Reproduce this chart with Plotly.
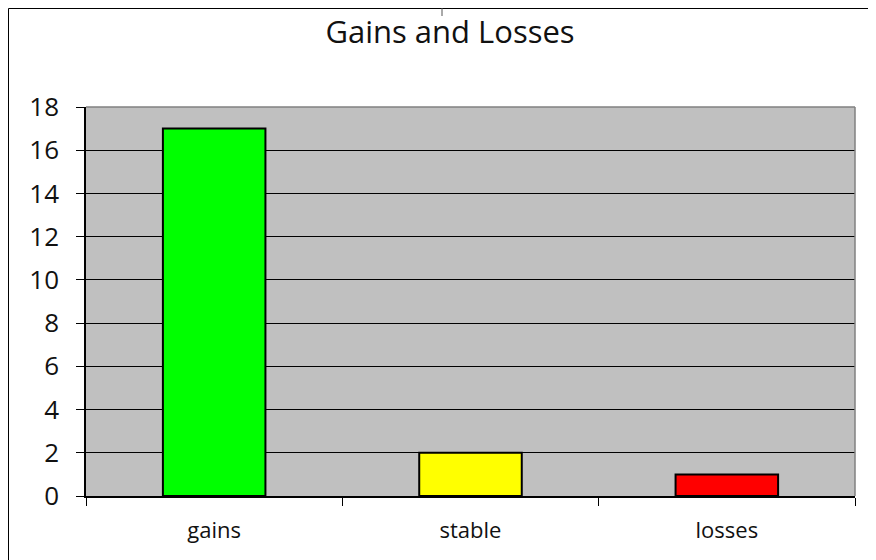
import plotly.graph_objects as go

categories = ["gains", "stable", "losses"]
values = [17, 2, 1]
bar_colors = ["#00FF00", "#FFFF00", "#FF0000"]
title_text = "Gains and Losses"

W, H = 876, 560
OFF = 8  # page offset of the figure inside the browser window
ml, mr, mt, mb = 86 - OFF, 29, 107 - OFF, 72
pw, ph = W - ml - mr, H - mt - mb

fig = go.Figure()
fig.add_trace(go.Bar(
    x=categories, y=values,
    marker=dict(color=bar_colors, line=dict(color="black", width=2)),
    width=0.4,
))

def px_x(x):
    return (x - OFF - ml) / pw

def px_y(y):
    return 1 - (y - OFF - mt) / ph

shapes = [
    # figure border: left and top edges (others out of frame)
    dict(type="line", xref="paper", yref="paper",
         x0=px_x(8.5), x1=px_x(8.5), y0=px_y(570), y1=px_y(8.5),
         line=dict(color="black", width=1)),
    dict(type="line", xref="paper", yref="paper",
         x0=px_x(8.5), x1=px_x(890), y0=px_y(8.5), y1=px_y(8.5),
         line=dict(color="black", width=1)),
    # small mark at top
    dict(type="line", xref="paper", yref="paper",
         x0=px_x(442), x1=px_x(442), y0=px_y(0), y1=px_y(16),
         line=dict(color="#555555", width=1)),
    # plot area border (gray) top and right
    dict(type="line", xref="paper", yref="paper", x0=0, x1=1, y0=1, y1=1,
         line=dict(color="#808080", width=1.5)),
    dict(type="line", xref="paper", yref="paper", x0=1, x1=1, y0=0, y1=1,
         line=dict(color="#808080", width=1.5)),
]

fig.update_layout(
    width=W, height=H,
    margin=dict(l=ml, r=mr, t=mt, b=mb),
    paper_bgcolor="white",
    plot_bgcolor="#C0C0C0",
    showlegend=False,
    title=dict(text=title_text, x=(450 - OFF) / W, xref="container", xanchor="center",
               y=1 - (32 - OFF) / H, yanchor="middle", yref="container",
               font=dict(family="Open Sans", size=31, color="#111111")),
    shapes=shapes,
    bargap=0.6,
)

fig.update_xaxes(
    type="category", showgrid=False, zeroline=False,
    showline=True, linecolor="black", linewidth=1.5,
    ticks="outside", tickson="boundaries", ticklen=8, tickcolor="black", tickwidth=1,
    ticklabelstandoff=14,
    tickfont=dict(family="Open Sans", size=22, color="#111111"),
)
fig.update_yaxes(
    range=[0, 18], dtick=2, tick0=0,
    showgrid=True, gridcolor="black", gridwidth=1,
    zeroline=False,
    showline=True, linecolor="black", linewidth=1.5,
    ticks="outside", ticklen=8, tickcolor="black", tickwidth=1,
    ticklabelstandoff=12,
    tickfont=dict(family="Open Sans", size=26, color="#111111"),
)

fig.write_html("out.html")
